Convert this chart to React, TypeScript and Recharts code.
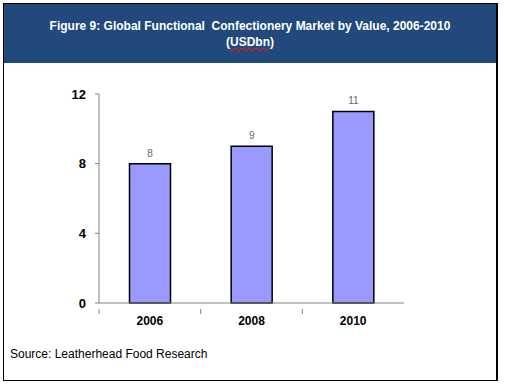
import React from "react";
import { BarChart, Bar, XAxis, YAxis, LabelList } from "recharts";

const years = ["2006", "2008", "2010"];
const values = [8, 9, 11];
const yTicks = [0, 4, 8, 12];

const data = years.map((y, i) => ({ year: y, value: values[i] }));

const FONT = "'Liberation Sans', Arial, sans-serif";

const CatTick = (props: any) => {
  const { x, y, payload } = props;
  const off = payload && typeof payload.offset === "number" ? payload.offset : 0;
  return (
    <g>
      <line x1={x - off} x2={x - off} y1={y} y2={y + 5} stroke="#808080" strokeWidth={1} />
      <text
        x={x}
        y={y + 16}
        textAnchor="middle"
        fill="#000"
        fontSize={12}
        fontWeight="bold"
        fontFamily={FONT}
      >
        {payload.value}
      </text>
    </g>
  );
};

export default function App() {
  return (
    <div style={{ position: "absolute", left: 0, top: 0, width: 505, height: 384, background: "#fff", fontFamily: FONT }}>
      <div
        style={{
          position: "absolute",
          left: 3,
          top: 3,
          width: 495,
          height: 378,
          border: "1px solid #000",
          borderRightWidth: 2,
          boxSizing: "border-box",
        }}
      />
      <div
        style={{
          position: "absolute",
          left: 4,
          top: 4,
          width: 492,
          height: 59,
          background: "#21497c",
          color: "#fff",
          fontWeight: "bold",
          fontSize: 12,
          textAlign: "center",
          lineHeight: "16px",
          paddingTop: 14,
          boxSizing: "border-box",
        }}
      >
        <div style={{ whiteSpace: "pre" }}>{"Figure 9: Global Functional  Confectionery Market by Value, 2006-2010"}</div>
        <div>
          (
          <span
            style={{
              textDecorationLine: "underline",
              textDecorationStyle: "wavy",
              textDecorationColor: "#d02020",
            }}
          >
            USDbn
          </span>
          )
        </div>
      </div>
      <div style={{ position: "absolute", left: 10, top: 347, fontSize: 12, color: "#000" }}>
        Source: Leatherhead Food Research
      </div>
      <div style={{ position: "absolute", left: 0, top: 0 }}>
        <BarChart
          width={505}
          height={384}
          data={data}
          margin={{ top: 94, right: 101, bottom: 51, left: 59 }}
          barCategoryGap="30%"
        >
          <XAxis
            dataKey="year"
            axisLine={{ stroke: "#808080" }}
            tickLine={false}
            height={30}
            tickMargin={0}
            tick={<CatTick />}
          />
          <YAxis
            domain={[0, 12]}
            ticks={yTicks}
            width={40}
            tickSize={4}
            tickMargin={9}
            stroke="#808080"
            tick={{ fill: "#000", fontSize: 13, fontWeight: "bold", fontFamily: FONT }}
          />
          <Bar
            dataKey="value"
            fill="#9999ff"
            stroke="#000"
            strokeWidth={1.5}
            isAnimationActive={false}
          >
            <LabelList dataKey="value" position="top" offset={7} fill="#666" fontSize={10} fontFamily={FONT} />
          </Bar>
        </BarChart>
      </div>
    </div>
  );
}
